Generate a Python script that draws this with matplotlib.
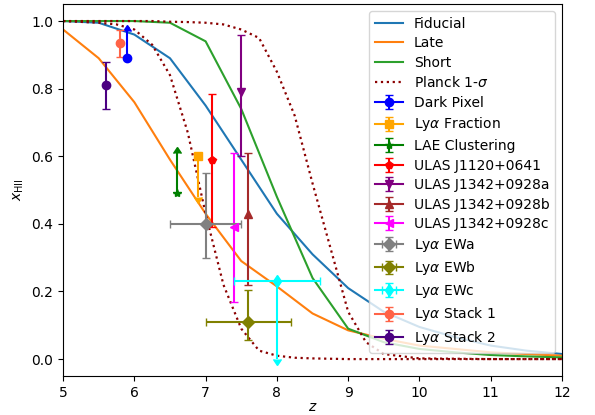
import numpy as np
import matplotlib
matplotlib.use('Agg')
import matplotlib.pyplot as plt

# model histories
z_model = [5.0, 5.5, 6.0, 6.5, 7.0, 7.5, 8.0, 8.5, 9.0, 9.5, 10.0, 10.5, 11.0, 11.5, 12.0]
x_fiducial = [1.0, 0.995, 0.96, 0.89, 0.75, 0.59, 0.43, 0.31, 0.21, 0.14, 0.095, 0.065, 0.04, 0.025, 0.015]
x_late = [0.975, 0.89, 0.76, 0.59, 0.43, 0.29, 0.215, 0.135, 0.085, 0.06, 0.04, 0.03, 0.02, 0.015, 0.01]
x_short = [1.0, 1.0, 1.0, 0.995, 0.94, 0.74, 0.48, 0.24, 0.09, 0.05, 0.03, 0.02, 0.012, 0.008, 0.005]

z_planck = [5.0, 5.5, 5.75, 6.0, 6.25, 6.5, 6.75, 7.0, 7.25, 7.5, 7.75, 8.0, 8.25, 8.5, 8.75,
            9.0, 9.25, 9.5, 10.0, 11.0, 12.0]
x_planck_lo = [1.0, 0.995, 0.99, 0.975, 0.93, 0.84, 0.67, 0.43, 0.22, 0.09, 0.025, 0.01, 0.004,
               0.002, 0.001, 0.0, 0.0, 0.0, 0.0, 0.0, 0.0]
x_planck_hi = [1.0, 1.0, 1.0, 1.0, 1.0, 0.998, 0.997, 0.995, 0.99, 0.975, 0.95, 0.85, 0.72,
               0.52, 0.33, 0.14, 0.05, 0.015, 0.002, 0.0, 0.0]

# observational constraints
obs_names = ['Dark Pixel', r'Ly$\alpha$ Fraction', 'LAE Clustering', 'ULAS J1120+0641',
             'ULAS J1342+0928a', 'ULAS J1342+0928b', 'ULAS J1342+0928c',
             r'Ly$\alpha$ EWa', r'Ly$\alpha$ EWb', r'Ly$\alpha$ EWc',
             r'Ly$\alpha$ Stack 1', r'Ly$\alpha$ Stack 2']
obs_z = [5.9, 6.9, 6.6, 7.085, 7.5, 7.6, 7.4, 7.0, 7.6, 8.0, 5.8, 5.6]
obs_x = [0.89, 0.60, 0.49, 0.59, 0.79, 0.43, 0.39, 0.40, 0.11, 0.23, 0.935, 0.81]
obs_yerr_lo = [0.0, 0.12, 0.0, 0.20, 0.19, 0.21, 0.22, 0.10, 0.055, 0.23, 0.04, 0.07]
obs_yerr_hi = [0.08, 0.0, 0.12, 0.195, 0.17, 0.18, 0.22, 0.15, 0.095, 0.0, 0.04, 0.07]
obs_xerr = [0, 0, 0, 0, 0, 0, 0, 0.5, 0.6, 0.6, 0, 0]
obs_limit = ['lo', 'up', 'lo', None, None, None, None, None, None, 'up', None, None]
obs_colors = ['blue', 'orange', 'green', 'red', 'purple', 'brown', 'magenta',
              'gray', 'olive', 'cyan', 'tomato', 'indigo']
obs_markers = ['o', 's', '*', 'p', 'v', '^', '<', 'D', 'D', 'd', 'o', 'o']

fig, ax = plt.subplots(figsize=(5.95, 4.15), dpi=100)
fig.subplots_adjust(left=0.106, right=0.9445, bottom=0.094, top=0.99)

ax.plot(z_model, x_fiducial, color='C0', label='Fiducial')
ax.plot(z_model, x_late, color='C1', label='Late')
ax.plot(z_model, x_short, color='C2', label='Short')
ax.plot(z_planck, x_planck_lo, color='darkred', ls=':', lw=1.6, label=r'Planck 1-$\sigma$')
ax.plot(z_planck, x_planck_hi, color='darkred', ls=':', lw=1.6)

for i in range(len(obs_names)):
    lim = obs_limit[i]
    if lim == 'lo':
        yerr = obs_yerr_hi[i]
    elif lim == 'up':
        yerr = obs_yerr_lo[i]
    else:
        yerr = [[obs_yerr_lo[i]], [obs_yerr_hi[i]]]
    xerr = obs_xerr[i] if obs_xerr[i] > 0 else None
    ax.errorbar(obs_z[i], obs_x[i], yerr=yerr, xerr=xerr,
                lolims=(lim == 'lo'), uplims=(lim == 'up'),
                color=obs_colors[i], marker=obs_markers[i], capsize=3,
                label=obs_names[i])

ax.set_xlim(5, 12)
ax.set_ylim(-0.05, 1.05)
ax.set_xlabel('$z$', labelpad=0)
ax.set_ylabel(r'$x_{\rm HII}$')
ax.legend(loc='upper right', labelspacing=0.4)

plt.savefig('out.png')
